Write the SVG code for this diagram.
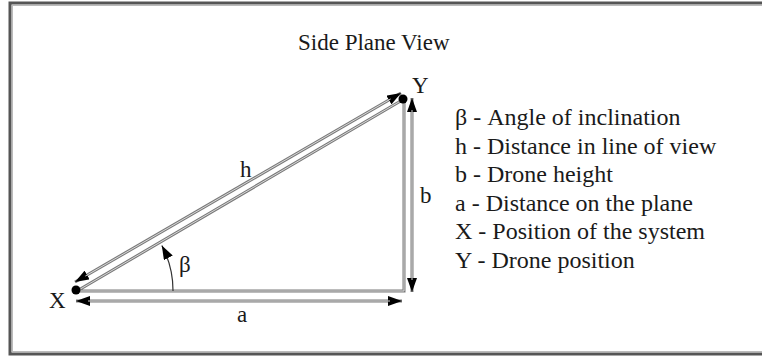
<svg xmlns="http://www.w3.org/2000/svg" width="762" height="358" viewBox="0 0 762 358">
<style>
.txt{font-family:"Liberation Serif","Times New Roman",serif;fill:#1a1a1a;}
.lbl{font-size:23px;}
.leg{font-size:24px;}
.outer{fill:none;stroke:#7a7a7a;stroke-width:3;}
.inner{fill:none;stroke:#d8d8d8;stroke-width:1;}
.arc{fill:none;stroke:#333;stroke-width:1.2;}
</style>
<defs>
<marker id="ah" viewBox="0 0 14 10" refX="14" refY="5" markerWidth="14" markerHeight="10" markerUnits="userSpaceOnUse" orient="auto-start-reverse">
<path d="M0,0 L14,5 L0,10 Z" fill="#000"/>
</marker>
</defs>
<rect x="10" y="3" width="770" height="351" fill="#fff" stroke="#555" stroke-width="3"/>
<rect x="12.5" y="5.5" width="770" height="346" fill="none" stroke="#bbb" stroke-width="1"/>
<g id="title"><text class="txt" x="298" y="50" font-size="23">Side Plane View</text></g>
<g id="triangle">
<path class="outer" d="M77,291 L404,291 L404,99 Z"/>
<path class="inner" d="M77,291 L404,291 L404,99 Z"/>
</g>
<g id="connectors">
<line class="outer" x1="76" y1="301" x2="402" y2="301" marker-start="url(#ah)" marker-end="url(#ah)"/>
<line class="inner" x1="88" y1="301" x2="390" y2="301"/>
<line class="outer" x1="412" y1="98" x2="412" y2="292" marker-start="url(#ah)" marker-end="url(#ah)"/>
<line class="inner" x1="412" y1="110" x2="412" y2="280"/>
<line class="outer" x1="75" y1="282" x2="401" y2="93" marker-start="url(#ah)" marker-end="url(#ah)"/>
<line class="inner" x1="85.4" y1="276" x2="390.6" y2="99"/>
<path class="arc" d="M173,291 A96,96 0 0 0 161.8,245.5" marker-end="url(#ah)"/>
</g>
<g id="nodeX"><circle cx="76" cy="290" r="4.5" fill="#000"/><text class="txt lbl" x="49" y="308">X</text></g>
<g id="nodeY"><circle cx="403" cy="99" r="4.5" fill="#000"/><text class="txt lbl" x="412" y="93">Y</text></g>
<g id="labels">
<text class="txt lbl" x="179" y="272">β</text>
<text class="txt lbl" x="240" y="177">h</text>
<text class="txt lbl" x="420" y="203">b</text>
<text class="txt lbl" x="237" y="322">a</text>
</g>
<g id="legend" class="txt leg">
<text x="455" y="125">β - Angle of inclination</text>
<text x="455" y="153.5">h - Distance in line of view</text>
<text x="455" y="182">b - Drone height</text>
<text x="455" y="210.5">a - Distance on the plane</text>
<text x="455" y="239">X - Position of the system</text>
<text x="455" y="267.5">Y - Drone position</text>
</g>
</svg>
